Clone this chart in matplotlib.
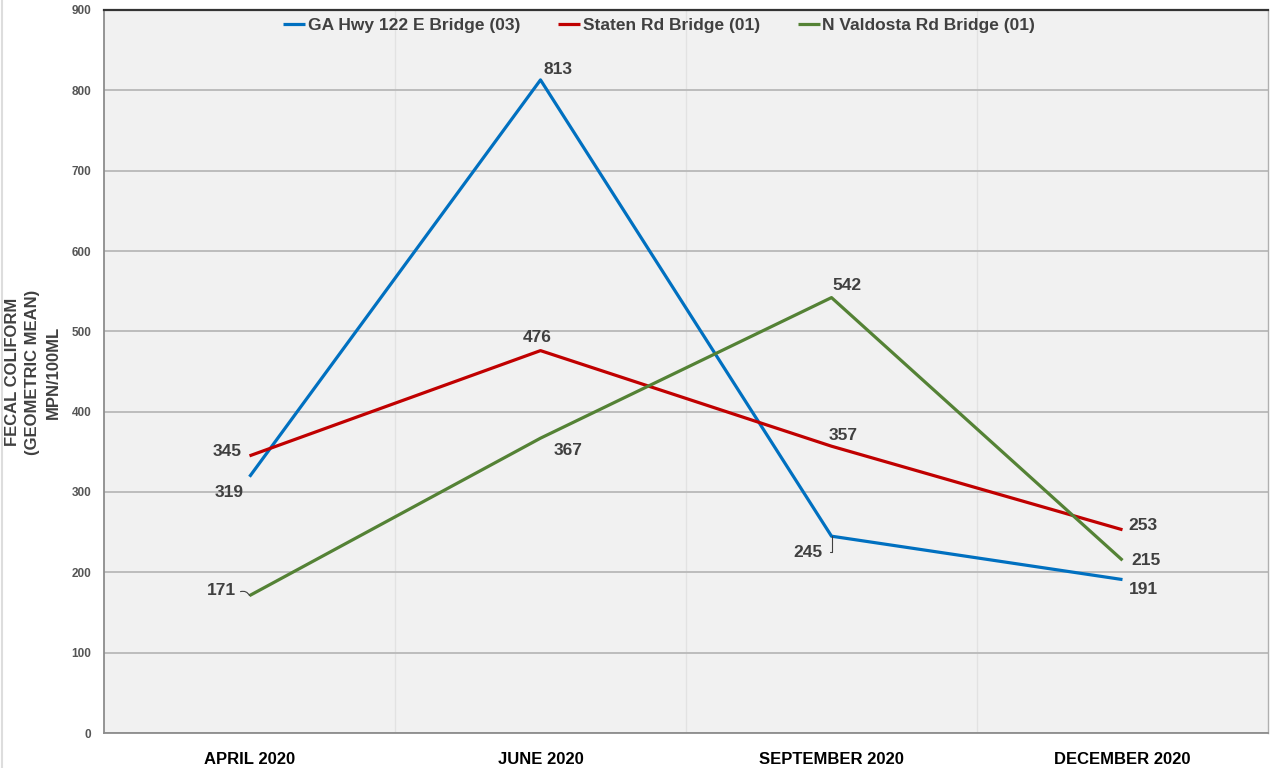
import matplotlib
matplotlib.use("Agg")
import matplotlib.pyplot as plt
from matplotlib.lines import Line2D
import numpy as np

plt.rcParams["font.family"] = ["Liberation Sans", "DejaVu Sans"]

# ── data ─────────────────────────────────────────────────────────────────────
months = ["APRIL 2020", "JUNE 2020", "SEPTEMBER 2020", "DECEMBER 2020"]
ga_hwy = [319, 813, 245, 191]
staten = [345, 476, 357, 253]
n_valdosta = [171, 367, 542, 215]

# ── colours ──────────────────────────────────────────────────────────────────
C_BLUE = "#0070C0"
C_RED = "#C00000"
C_GREEN = "#548235"
C_TEXT = "#404040"

# label offsets in pixels (dx, dy) for each point
off_blue = [(-20, -16), (18, 10), (-24, -16), (21, -10)]
off_red = [(-22, 4), (-3, 13), (12, 11), (20, 4)]
off_green = [(-28, 5), (28, -12), (15, 12), (24, 0)]

fig = plt.figure(figsize=(12.7, 7.68), dpi=100)
ax = fig.add_axes([104 / 1270, 35 / 768, 1164 / 1270, 723 / 768])
ax.set_facecolor("#f1f1f1")

x = np.arange(len(months))
series = [
    ("GA Hwy 122 E Bridge (03)", ga_hwy, C_BLUE, off_blue),
    ("Staten Rd Bridge (01)", staten, C_RED, off_red),
    ("N Valdosta Rd Bridge (01)", n_valdosta, C_GREEN, off_green),
]

for name, vals, col, offs in series:
    ax.plot(x, vals, color=col, lw=2.3, label=name, zorder=3,
            solid_capstyle="butt")
    for i, (v, (dx, dy)) in enumerate(zip(vals, offs)):
        ax.annotate(str(v), (x[i], v), xytext=(dx, dy), textcoords="offset pixels",
                    ha="center", va="center", fontsize=12.5, fontweight="bold",
                    color=C_TEXT, zorder=4)

# small leader lines for labels pulled away from their points
ax.annotate("", (x[2], ga_hwy[2]), xytext=(-2, -16), textcoords="offset pixels",
            arrowprops=dict(arrowstyle="-", color="#404040", lw=0.8,
                            connectionstyle="angle,angleA=0,angleB=90,rad=0",
                            shrinkA=0, shrinkB=0))
ax.annotate("", (x[0], n_valdosta[0]), xytext=(-9, 4), textcoords="offset pixels",
            arrowprops=dict(arrowstyle="-", color="#404040", lw=0.8,
                            connectionstyle="arc3,rad=-0.4",
                            shrinkA=0, shrinkB=0))

ax.set_xlim(-0.5, 3.5)
ax.set_ylim(0, 900)
ax.set_yticks(np.arange(0, 901, 100))
ax.set_xticks(x)
ax.set_xticklabels(months, fontsize=12, fontweight="bold", color="black")
ax.tick_params(axis="x", length=0, pad=14)
ax.tick_params(axis="y", length=0, labelsize=8.5, labelcolor="#555555", pad=9)
for lbl in ax.get_yticklabels():
    lbl.set_fontweight("bold")

# horizontal grid + faint vertical separators
ax.yaxis.grid(True, color="#b8b8b8", lw=1.3)
for b in [0.5, 1.5, 2.5]:
    ax.axvline(b, color="#e2e2e2", lw=1.0, zorder=0)
ax.set_axisbelow(True)

ax.spines["top"].set_color("#333333")
ax.spines["top"].set_linewidth(1.6)
ax.spines["left"].set_color("#8c8c8c")
ax.spines["left"].set_linewidth(1.3)
ax.spines["bottom"].set_color("#8c8c8c")
ax.spines["bottom"].set_linewidth(1.3)
ax.spines["right"].set_color("#b0b0b0")
ax.spines["right"].set_linewidth(1.0)

fig.text(33 / 1270, 1 - 372 / 768, "FECAL COLIFORM\n(GEOMETRIC MEAN)\nMPN/100ML",
         rotation=90, ha="center", va="center", fontsize=12,
         fontweight="bold", color=C_TEXT, linespacing=1.45, multialignment="center")

# thin frame line at the far left edge of the picture
fig.add_artist(Line2D([2 / 1270, 2 / 1270], [0, 1], color="#dddddd", lw=1.5,
                      transform=fig.transFigure))

leg = ax.legend(loc="upper center", bbox_to_anchor=(0.477, 1.011), ncol=3,
                frameon=False, handlelength=1.25, handletextpad=0.15,
                columnspacing=2.2, prop={"weight": "bold", "size": 12.5})
for t in leg.get_texts():
    t.set_color(C_TEXT)

fig.savefig("out.png", dpi=100)
